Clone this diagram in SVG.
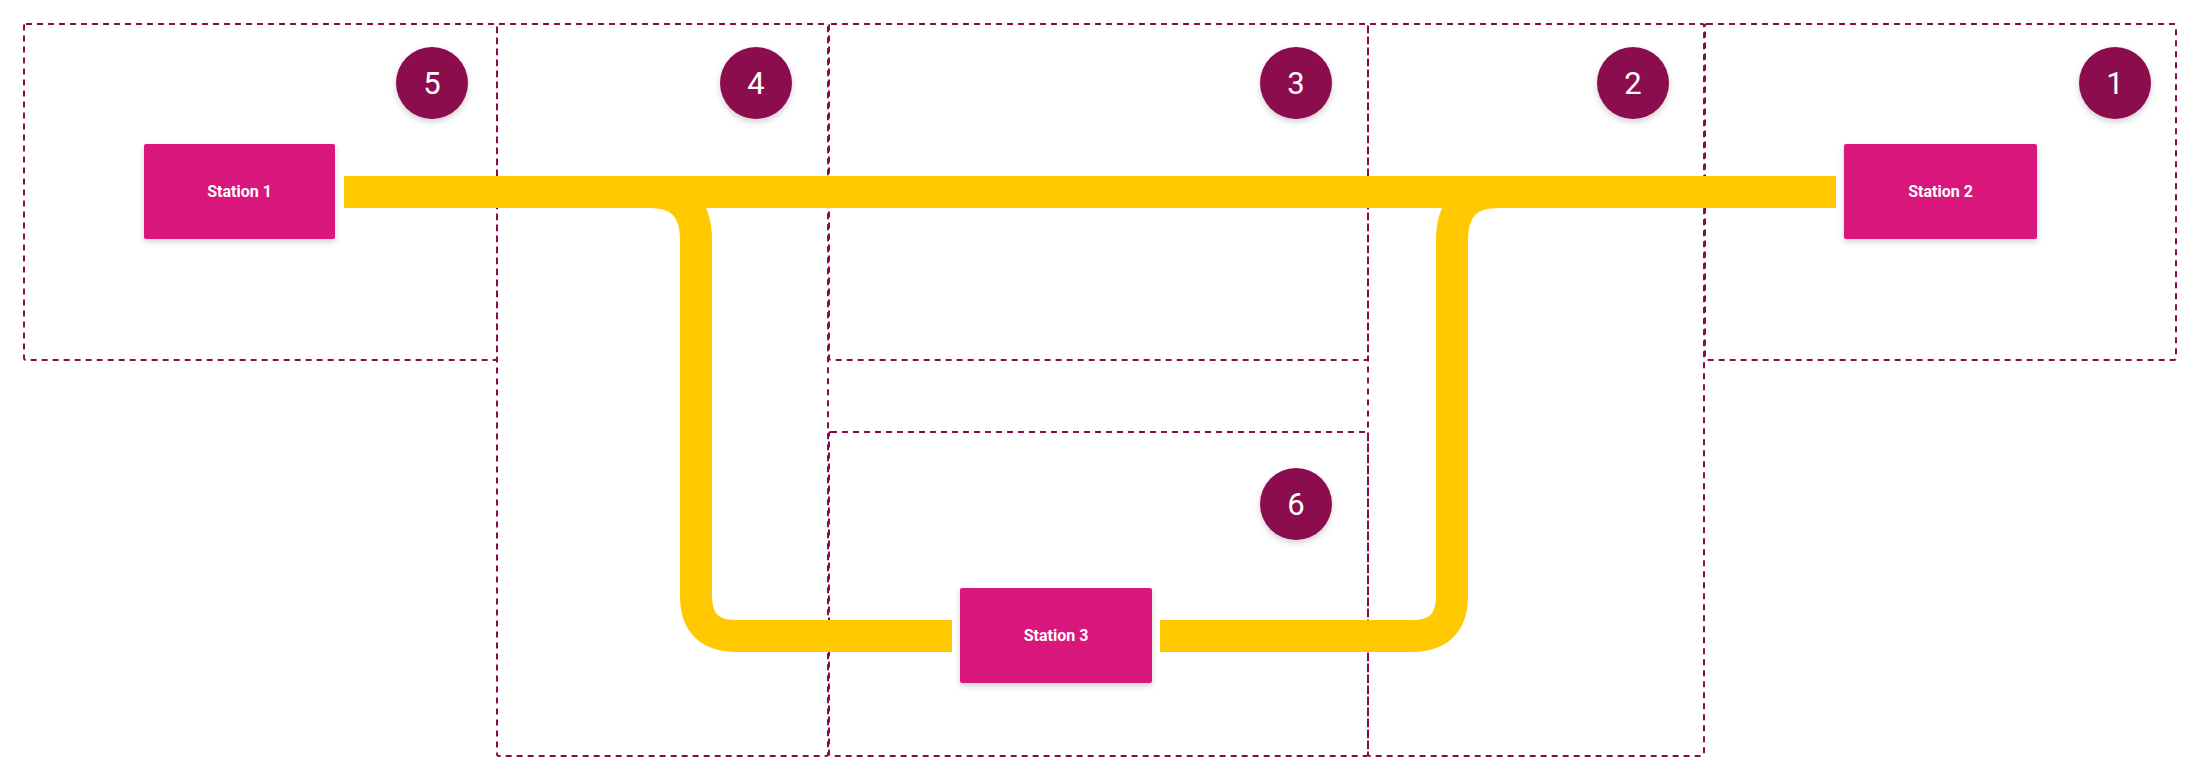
<svg xmlns="http://www.w3.org/2000/svg" width="2196" height="780" viewBox="0 0 2196 780">
<defs>
<filter id="sh" x="-20%" y="-20%" width="140%" height="150%"><feDropShadow dx="0" dy="3" stdDeviation="3" flood-color="#000" flood-opacity="0.18"/></filter>
</defs>
<style>
.zone{fill:none;stroke:#8b0a4e;stroke-width:2;stroke-dasharray:6 5}
.track{fill:none;stroke:#ffc800;stroke-width:32}
.st{fill:#d9177b;filter:url(#sh)}
.stt{fill:#fff;font-family:Roboto,"Liberation Sans",sans-serif;font-weight:bold;font-size:16px;text-anchor:middle}
.num{fill:#8b0a4e;filter:url(#sh)}
.numt{fill:#fff;font-family:Roboto,"Liberation Sans",sans-serif;font-size:31px;text-anchor:middle}
</style>
<rect width="2196" height="780" fill="#fff"/>
<g id="zones">
<rect id="zone5" class="zone" x="24" y="24" width="473" height="336" rx="2"/>
<rect id="zone4" class="zone" x="497" y="24" width="331" height="732" rx="2"/>
<rect id="zone3" class="zone" x="829" y="24" width="539" height="336" rx="2"/>
<rect id="zone6" class="zone" x="829" y="432" width="539" height="324" rx="2"/>
<rect id="zone2" class="zone" x="1368" y="24" width="336" height="732" rx="2"/>
<rect id="zone1" class="zone" x="1705" y="24" width="471" height="336" rx="2"/>
</g>
<g id="connectors">
<path class="track" d="M344 192 L1836 192"/>
<path class="track" d="M650 192 Q696 192 696 240 L696 596 Q696 636 736 636 L952 636"/>
<path class="track" d="M1160 636 L1412 636 Q1452 636 1452 596 L1452 240 Q1452 192 1498 192"/>
</g>
<g id="badge5"><circle class="num" cx="432" cy="83" r="36"/><text class="numt" x="432" y="94">5</text></g>
<g id="badge4"><circle class="num" cx="756" cy="83" r="36"/><text class="numt" x="756" y="94">4</text></g>
<g id="badge3"><circle class="num" cx="1296" cy="83" r="36"/><text class="numt" x="1296" y="94">3</text></g>
<g id="badge2"><circle class="num" cx="1633" cy="83" r="36"/><text class="numt" x="1633" y="94">2</text></g>
<g id="badge1"><circle class="num" cx="2115" cy="83" r="36"/><text class="numt" x="2115" y="94">1</text></g>
<g id="badge6"><circle class="num" cx="1296" cy="504" r="36"/><text class="numt" x="1296" y="515">6</text></g>
<g id="station1"><rect class="st" x="144" y="144" width="191" height="95" rx="2"/><text class="stt" x="239.5" y="197">Station 1</text></g>
<g id="station2"><rect class="st" x="1844" y="144" width="193" height="95" rx="2"/><text class="stt" x="1940.5" y="197">Station 2</text></g>
<g id="station3"><rect class="st" x="960" y="588" width="192" height="95" rx="2"/><text class="stt" x="1056" y="641">Station 3</text></g>
</svg>
